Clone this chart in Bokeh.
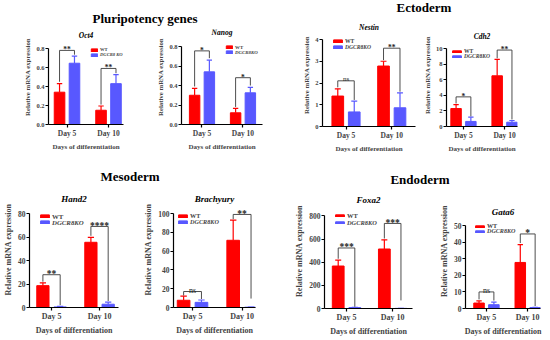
from bokeh.plotting import figure
from bokeh.models import Range1d, FixedTicker, Legend, LegendItem, Div
from bokeh.layouts import row, column
from bokeh.embed import file_html
from bokeh.resources import INLINE
from bokeh.core.properties import value

FONT = "Liberation Serif"
RED = "#FF0000"
BLUE = "#5858FF"
BRACKET = "#3a3a3a"

# ---------------- data ----------------
days = ["Day 5", "Day 10"]
y_axis_label = "Relative mRNA expression"
x_axis_label = "Days of differentiation"
wt_label = "WT"

oct4_wt = [0.34, 0.15]
oct4_wt_sd = [0.09, 0.045]
oct4_ko = [0.645, 0.43]
oct4_ko_sd = [0.075, 0.095]
oct4_sig = ["**", "**"]
oct4_sig_y = [0.78, 0.59]
oct4_sig_left = [0.45, 0.21]
oct4_sig_right = [0.735, 0.54]
oct4_yticks = [0, 0.2, 0.4, 0.6, 0.8]
oct4_ylabels = ["0.0", "0.2", "0.4", "0.6", "0.8"]

nanog_wt = [0.30, 0.12]
nanog_wt_sd = [0.07, 0.045]
nanog_ko = [0.54, 0.325]
nanog_ko_sd = [0.12, 0.055]
nanog_sig = ["*", "*"]
nanog_sig_y = [0.755, 0.48]
nanog_sig_left = [0.39, 0.18]
nanog_sig_right = [0.68, 0.40]
nanog_yticks = [0, 0.2, 0.4, 0.6, 0.8]
nanog_ylabels = ["0.0", "0.2", "0.4", "0.6", "0.8"]

nestin_wt = [1.40, 2.78]
nestin_wt_sd = [0.33, 0.22]
nestin_ko = [0.67, 0.86]
nestin_ko_sd = [0.50, 0.69]
nestin_sig = ["ns", "**"]
nestin_sig_y = [2.1, 3.6]
nestin_sig_left = [1.8, 3.05]
nestin_sig_right = [1.22, 1.6]
nestin_yticks = [0, 1, 2, 3, 4]
nestin_ylabels = ["0", "1", "2", "3", "4"]

cdh2_wt = [2.3, 6.5]
cdh2_wt_sd = [0.5, 2.1]
cdh2_ko = [0.65, 0.55]
cdh2_ko_sd = [0.55, 0.22]
cdh2_sig = ["*", "**"]
cdh2_sig_y = [3.8, 9.8]
cdh2_sig_left = [2.95, 8.75]
cdh2_sig_right = [1.3, 0.9]
cdh2_yticks = [0, 2, 4, 6, 8, 10]
cdh2_ylabels = ["0", "2", "4", "6", "8", "10"]

hand2_wt = [18.6, 55.5]
hand2_wt_sd = [2.4, 4.2]
hand2_ko = [0.5, 2.8]
hand2_ko_sd = [0.4, 1.7]
hand2_sig = ["**", "****"]
hand2_sig_y = [27.9, 69]
hand2_sig_left = [22, 61]
hand2_sig_right = [2, 5.5]
hand2_yticks = [0, 20, 40, 60, 80]
hand2_ylabels = ["0", "20", "40", "60", "80"]

brachyury_wt = [7.7, 71.5]
brachyury_wt_sd = [4.3, 21.5]
brachyury_ko = [5.5, 0.3]
brachyury_ko_sd = [2.5, 0.0]
brachyury_sig = ["ns", "**"]
brachyury_sig_y = [17, 99]
brachyury_sig_left = [12.8, 94]
brachyury_sig_right = [9, 9.5]
brachyury_yticks = [0, 20, 40, 60, 80, 100]
brachyury_ylabels = ["0", "20", "40", "60", "80", "100"]

foxa2_wt = [367, 514]
foxa2_wt_sd = [51, 79]
foxa2_ko = [8, 1]
foxa2_ko_sd = [3, 0]
foxa2_sig = ["***", "***"]
foxa2_sig_y = [523, 735]
foxa2_sig_left = [430, 605]
foxa2_sig_right = [15, 70]
foxa2_yticks = [0, 200, 400, 600, 800]
foxa2_ylabels = ["0", "200", "400", "600", "800"]

gata6_wt = [3.3, 27.8]
gata6_wt_sd = [1.3, 10.8]
gata6_ko = [2.3, 0.6]
gata6_ko_sd = [1.6, 0.1]
gata6_sig = ["ns", "*"]
gata6_sig_y = [10, 45]
gata6_sig_left = [5.5, 39.5]
gata6_sig_right = [4.8, 1.5]
gata6_yticks = [0, 10, 20, 30, 40, 50]
gata6_ylabels = ["0", "10", "20", "30", "40", "50"]

# ---------------- styles / layout ----------------
OFF = 0.18   # dodge of WT / KO bars around the group centre
BW = 0.255   # bar width
CAP = 0.065  # half width of error-bar cap

SMALL = dict(title=7.5, axis=6.8, tick=6.5, day=7.5, xlab=7.0, star=7.5, ns=7.0)
BIG = dict(title=9.0, axis=8.0, tick=7.5, day=8.0, xlab=8.0, star=9.5, ns=8.0)


def make_panel(gene, ko_label, wt, wt_sd, ko, ko_sd, sig, sig_y, sig_l, sig_r,
               yticks, ylabels, geo, title_y, st, leg):
    fx0, fx1, fy0, fy1, fl, fr, fb, ytop, xl, xr = geo
    ft = fy0 + 1
    ymax = yticks[-1]
    ppu = (fb - ytop) / ymax           # pixels per data unit
    yend = (fb - ft) / ppu
    p = figure(width=fx1 - fx0, height=fy1 - fy0, output_backend="svg",
               toolbar_location=None, x_range=Range1d(xl, xr),
               y_range=Range1d(0, yend), title=None,
               min_border_left=fl - fx0, min_border_right=fx1 - fr,
               min_border_top=ft - fy0, min_border_bottom=fy1 - fb)
    p.outline_line_color = None
    p.grid.visible = False

    # gene name, centred over the frame
    p.text(x=[(xl + xr) / 2], y=[(fb - title_y) / ppu], text=[gene],
           text_align="center", text_baseline="middle", text_font=value(FONT),
           text_font_style="bold italic", text_font_size=f"{st['title']}px",
           text_color="black")

    centers = [i + 1 for i in range(len(days))]
    wt_x = [c - OFF for c in centers]
    ko_x = [c + OFF for c in centers]
    wt_top = [v + s for v, s in zip(wt, wt_sd)]
    ko_top = [v + s for v, s in zip(ko, ko_sd)]

    r_wt = p.vbar(x=wt_x, top=wt, width=BW, fill_color=RED, line_color=RED)
    r_ko = p.vbar(x=ko_x, top=ko, width=BW, fill_color=BLUE, line_color=BLUE)
    for xs, vals, tops, col in ((wt_x, wt, wt_top, RED), (ko_x, ko, ko_top, BLUE)):
        p.segment(x0=xs, y0=vals, x1=xs, y1=tops, line_color=col, line_width=1.2)
        p.segment(x0=[x - CAP for x in xs], y0=tops, x1=[x + CAP for x in xs],
                  y1=tops, line_color=col, line_width=1.2)

    bx = [[c - OFF, c - OFF, c + OFF, c + OFF] for c in centers]
    by = [[l, y, y, r] for l, y, r in zip(sig_l, sig_y, sig_r)]
    p.multi_line(xs=bx, ys=by, line_color=BRACKET, line_width=0.9)
    stars = [(c, y, t) for c, y, t in zip(centers, sig_y, sig) if t != "ns"]
    nss = [(c, y, t) for c, y, t in zip(centers, sig_y, sig) if t == "ns"]
    if stars:
        p.text(x=[s[0] for s in stars], y=[s[1] for s in stars], text=[s[2] for s in stars],
               text_align="center", text_baseline="alphabetic", y_offset=-0.5,
               text_font=value(FONT), text_font_style="bold",
               text_font_size=f"{st['star']}px", text_color="#222222")
    if nss:
        p.text(x=[s[0] for s in nss], y=[s[1] for s in nss], text=[s[2] for s in nss],
               text_align="center", text_baseline="alphabetic", y_offset=-1.5,
               text_font=value(FONT), text_font_style="normal",
               text_font_size=f"{st['ns']}px", text_color="#222222")

    xax = p.xaxis[0]
    yax = p.yaxis[0]
    xax.ticker = FixedTicker(ticks=centers)
    xax.major_label_overrides = {c: d for c, d in zip(centers, days)}
    xax.axis_label = x_axis_label
    yax.ticker = FixedTicker(ticks=yticks)
    yax.major_label_overrides = {t: l for t, l in zip(yticks, ylabels)}
    yax.bounds = (0, ymax)
    yax.axis_label = y_axis_label
    for ax in (xax, yax):
        ax.axis_line_width = 1.2
        ax.axis_line_color = "black"
        ax.major_tick_line_width = 1.2
        ax.major_tick_in = 0
        ax.major_tick_out = 3
        ax.minor_tick_line_color = None
        ax.major_label_text_font = FONT
        ax.major_label_text_font_style = "bold"
        ax.axis_label_text_font = FONT
        ax.axis_label_text_font_style = "bold"
        ax.major_label_standoff = 1
    yax.major_label_text_font_size = f"{st['tick']}px"
    yax.axis_label_text_font_size = f"{st['axis']}px"
    yax.axis_label_standoff = 2
    xax.major_label_text_font_size = f"{st['day']}px"
    xax.axis_label_text_font_size = f"{st['xlab']}px"
    xax.major_label_standoff = 1
    xax.axis_label_standoff = 2

    (wx, wy), (kx, ky), gw, gh, fs = leg
    row_h = max(gh, 1.15 * fs)
    for r, lab, style, lx, ly in ((r_wt, wt_label, "bold", wx, wy),
                                   (r_ko, ko_label, "bold italic", kx, ky)):
        lg = Legend(items=[LegendItem(label=lab, renderers=[r])],
                    location=(lx - fl, fb - ly - row_h),
                    glyph_width=gw, glyph_height=gh, label_height=gh, label_width=0,
                    label_standoff=2, padding=0, margin=0, spacing=0, title_standoff=0,
                    border_line_color=None, background_fill_alpha=0,
                    label_text_font=FONT, label_text_font_size=f"{fs}px",
                    label_text_font_style=style)
        p.add_layout(lg)
    return p


def header(text, w, h, lh, dx, dy):
    html = f'<span style="position:relative; left:{dx}px; top:{dy}px">{text}</span>'
    return Div(text=html, width=w, height=h, margin=0,
               styles={"font-family": FONT, "font-weight": "bold", "font-size": "13px",
                       "text-align": "center", "line-height": f"{lh}px", "color": "black"})


# geometry: fig x0, x1, y0, y1, frame left, right, zero-line, max-tick px, x start, x end
f1 = make_panel("Oct4", "DGCR8 KO", oct4_wt, oct4_wt_sd, oct4_ko, oct4_ko_sd, oct4_sig,
                oct4_sig_y, oct4_sig_left, oct4_sig_right, oct4_yticks, oct4_ylabels,
                (0, 152, 28, 164, 48, 123, 124, 48, 0.554, 2.361), 35, SMALL,
                ((90, 47), (90, 52), 8, 4, 4.6))
f2 = make_panel("Nanog", "DGCR8KO", nanog_wt, nanog_wt_sd, nanog_ko, nanog_ko_sd, nanog_sig,
                nanog_sig_y, nanog_sig_left, nanog_sig_right, nanog_yticks, nanog_ylabels,
                (152, 292, 28, 164, 181, 262, 124, 46, 0.5, 2.476), 32, SMALL,
                ((225, 44), (225, 49), 8, 4, 4.9))
f3 = make_panel("Nestin", "DGCR8KO", nestin_wt, nestin_wt_sd, nestin_ko, nestin_ko_sd, nestin_sig,
                nestin_sig_y, nestin_sig_left, nestin_sig_right, nestin_yticks, nestin_ylabels,
                (292, 420, 22, 164, 322, 415, 126, 39, 0.486, 2.519), 27, SMALL,
                ((332, 38), (332, 44), 11, 4, 5.6))
f4 = make_panel("Cdh2", "DGCR8KO", cdh2_wt, cdh2_wt_sd, cdh2_ko, cdh2_ko_sd, cdh2_sig,
                cdh2_sig_y, cdh2_sig_left, cdh2_sig_right, cdh2_yticks, cdh2_ylabels,
                (420, 546, 22, 164, 445, 517, 126, 48, 0.587, 2.315), 36, SMALL,
                ((450, 48), (450, 53), 11, 3, 5.6))
f5 = make_panel("Hand2", "DGCR8KO", hand2_wt, hand2_wt_sd, hand2_ko, hand2_ko_sd, hand2_sig,
                hand2_sig_y, hand2_sig_left, hand2_sig_right, hand2_yticks, hand2_ylabels,
                (0, 135, 190, 338, 23, 118, 307, 213, 0.541, 2.395), 198, BIG,
                ((33, 212), (33, 218), 11, 4, 6.8))
f6 = make_panel("Brachyury", "DGCR8KO", brachyury_wt, brachyury_wt_sd, brachyury_ko,
                brachyury_ko_sd, brachyury_sig, brachyury_sig_y, brachyury_sig_left,
                brachyury_sig_right, brachyury_yticks, brachyury_ylabels,
                (135, 292, 190, 338, 173, 255, 307, 213, 0.616, 2.27), 198, BIG,
                ((177, 212), (177, 218), 11, 4, 6.2))
f7 = make_panel("Foxa2", "DGCR8KO", foxa2_wt, foxa2_wt_sd, foxa2_ko, foxa2_ko_sd, foxa2_sig,
                foxa2_sig_y, foxa2_sig_left, foxa2_sig_right, foxa2_yticks, foxa2_ylabels,
                (292, 436, 192, 338, 318, 412, 311, 216, 0.523, 2.43), 200, BIG,
                ((328, 215), (328, 222), 11, 3, 6.4))
f8 = make_panel("Gata6", "DGCR8KO", gata6_wt, gata6_wt_sd, gata6_ko, gata6_ko_sd, gata6_sig,
                gata6_sig_y, gata6_sig_left, gata6_sig_right, gata6_yticks, gata6_ylabels,
                (436, 546, 192, 338, 459, 540, 311, 226, 0.492, 2.31), 212, BIG,
                ((468, 225), (468, 230), 11, 3, 6.1))

top_left = column(header("Pluripotency genes", 292, 28, 28, -1, 5), row(f1, f2))
top_right = column(header("Ectoderm", 254, 22, 16, 5, 0), row(f3, f4))
bot_left = column(header("Mesoderm", 292, 26, 26, -16, 0), row(f5, f6))
bot_right = column(header("Endoderm", 254, 28, 28, 1, 2), row(f7, f8))

layout = column(row(top_left, top_right), row(bot_left, bot_right))

open("out.html", "w").write(file_html(layout, INLINE))
